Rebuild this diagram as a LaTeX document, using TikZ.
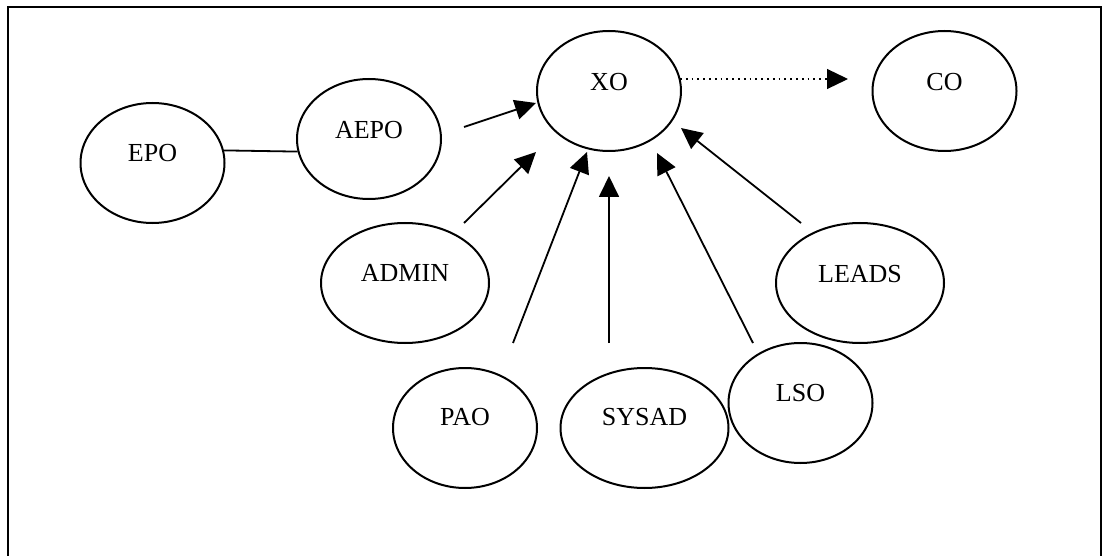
\documentclass[tikz,border=0pt]{standalone}
\usepackage{fontspec}
\setmainfont{Liberation Serif}
\usetikzlibrary{shapes.geometric,arrows.meta}
\tikzset{
  oval/.style={draw, ellipse, line width=1pt, minimum width=72pt, minimum height=60pt, inner sep=0pt},
  wideoval/.style={oval, minimum width=84pt},
  arr/.style={line width=0.9pt, -{Triangle[length=10.5pt,width=10pt]}}
}
\begin{document}
\begin{tikzpicture}[x=0.5pt, y=-0.5pt, font=\fontsize{13}{15}\selectfont]
        \useasboundingbox (0,0) rectangle (1104,556);
        \draw [line width=1.2pt] (8,556) -- (8,7) -- (1101,7) -- (1101,556);
        % the ovals
        \node [oval, label={[yshift=4.5pt]center:XO}] (xo) at (609,91) {};
        \node [oval, label={[yshift=4.5pt]center:CO}] (co) at (944.5,91) {};
        \node [oval, label={[yshift=5pt]center:EPO}] (epo) at (152.5,163) {};
        \node [oval, label={[yshift=4.5pt]center:AEPO}] (aepo) at (369,139) {};
        \node [wideoval, label={[yshift=5pt]center:ADMIN}] (admin) at (405,283) {};
        \node [wideoval, label={[yshift=4.5pt]center:LEADS}] (leads) at (860,283) {};
        \node [oval, label={[yshift=5.5pt]center:PAO}] (pao) at (465,428) {};
        \node [wideoval, label={[yshift=5.5pt]center:SYSAD}] (sysad) at (644.5,428) {};
        \node [oval, label={[yshift=5pt]center:LSO}] (lso) at (800.5,403) {};
        % loose arrow ends
        \coordinate (aepo-out) at (464,127);  \coordinate (xo-w) at (536,103);
        \coordinate (admin-out) at (464,223); \coordinate (xo-sw) at (536,152);
        \coordinate (pao-out) at (513,343);   \coordinate (xo-s) at (587,152);
        \coordinate (sysad-out) at (609,343); \coordinate (xo-b) at (609,176);
        \coordinate (lso-out) at (753,343);   \coordinate (xo-se) at (657,153);
        \coordinate (leads-out) at (801,223); \coordinate (xo-e) at (681,128);
        \coordinate (xo-out) at (680,79);     \coordinate (co-in) at (848,79);
        \draw [line width=0.9pt] (epo.10) -- (aepo.190);
        \draw [arr] (aepo-out) -- (xo-w);
        \draw [arr] (admin-out) -- (xo-sw);
        \draw [arr] (pao-out) -- (xo-s);
        \draw [arr] (sysad-out) -- (xo-b);
        \draw [arr] (lso-out) -- (xo-se);
        \draw [arr] (leads-out) -- (xo-e);
        \draw [arr, dotted, line width=0.6pt] (xo-out) -- (co-in);
    \end{tikzpicture}
\end{document}
